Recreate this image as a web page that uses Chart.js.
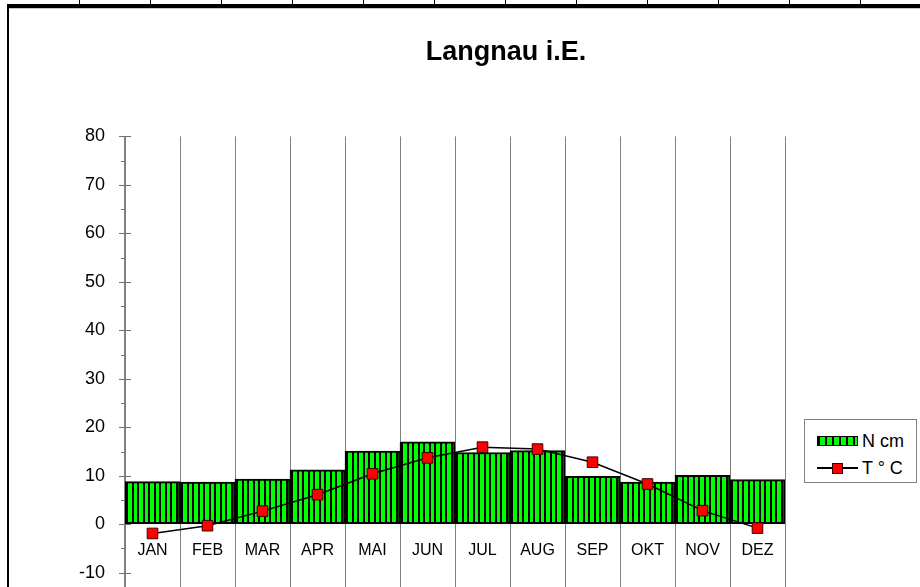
<!DOCTYPE html>
<html>
<head>
<meta charset="utf-8">
<script src="https://cdn.jsdelivr.net/npm/chart.js@4"></script>
<style>
  html, body { margin: 0; padding: 0; background: #fff; overflow: hidden; width: 920px; height: 587px; }
  #wrap { position: relative; width: 920px; height: 587px; overflow: hidden; }
  #c { position: absolute; left: 0; top: 0; }
  .deco { position: absolute; background: #000; }
  #legend {
    position: absolute; left: 804px; top: 419px; width: 111px; height: 62px;
    border: 1px solid #808080; background: #fff;
    font-family: "Liberation Sans", Arial, sans-serif; font-size: 18px; color: #000;
  }
  .item { position: absolute; left: 12px; height: 20px; display: flex; align-items: center; }
  .item span { margin-left: 4px; }
  .sw-bar { width: 39px; height: 8px; border: 1px solid #000;
    background: repeating-linear-gradient(90deg, #000 0 2px, #00ff00 2px 7px); }
  .sw-line { position: relative; width: 41px; height: 10px; }
  .sw-line i { position: absolute; left: 0; right: 0; top: 4px; height: 1.5px; background: #000; }
  .sw-line b { position: absolute; left: 15px; top: 0; width: 9px; height: 9px; background: #f00; border: 1px solid #400000; }
</style>
</head>
<body>
<div id="wrap">
  <canvas id="c" width="920" height="652"></canvas>
  <div id="legend"></div>
</div>
<script>
const months = ["JAN", "FEB", "MAR", "APR", "MAI", "JUN", "JUL", "AUG", "SEP", "OKT", "NOV", "DEZ"];
const niederschlag = [8.8, 8.7, 9.3, 11.2, 15.1, 17.0, 14.8, 15.2, 9.9, 8.7, 10.1, 9.2];
const temperatur = [-1.9, -0.3, 2.7, 6.1, 10.4, 13.7, 15.9, 15.5, 12.8, 8.3, 2.8, -0.8];
const seriesNames = ["N cm", "T ° C"];
const titel = "Langnau i.E.";

// spreadsheet frame round the chart
const wrap = document.getElementById("wrap");
function deco(l, t, w, h, col) {
  const d = document.createElement("div");
  d.className = "deco";
  d.style.cssText = "left:" + l + "px;top:" + t + "px;width:" + w + "px;height:" + h + "px;" + (col ? "background:" + col : "");
  wrap.appendChild(d);
}
deco(7, 4, 913, 4);
deco(7, 8, 913, 1, "#c8c8c8");
deco(7, 4, 2, 583);
for (let x = 79; x < 920; x += 71) deco(x, 0, 1, 4);

// striped fill for the bars
const pc = document.createElement("canvas");
pc.width = 11; pc.height = 4;
const pctx = pc.getContext("2d");
pctx.fillStyle = "#00ff00";
pctx.fillRect(0, 0, 11, 4);
pctx.fillStyle = "#000";
pctx.fillRect(0, 0, 2, 4);
pctx.fillRect(5, 0, 2, 4);
const stripes = document.getElementById("c").getContext("2d").createPattern(pc, "repeat");

// y ticks crossing the axis, with minor ticks every 5
const yTicks = {
  id: "yTicks",
  afterLayout(chart) {
    // title is centred over the whole chart box incl. legend, not just the plot
    if (chart.titleBlock) { chart.titleBlock.left = 92; chart.titleBlock.right = 920; }
  },
  afterDraw(chart) {
    const ctx = chart.ctx, y = chart.scales.y, x0 = chart.chartArea.left;
    ctx.save();
    ctx.strokeStyle = "#707070";
    ctx.lineWidth = 1;
    for (let v = y.min; v <= y.max; v += 5) {
      const py = Math.round(y.getPixelForValue(v)) + 0.5;
      ctx.beginPath();
      if (v % 10 === 0) { ctx.moveTo(x0 - 6, py); ctx.lineTo(x0 + 6, py); }
      else { ctx.moveTo(x0 - 4, py); ctx.lineTo(x0, py); }
      ctx.stroke();
    }
    ctx.restore();
  }
};

Chart.defaults.font.family = '"Liberation Sans", Arial, sans-serif';
Chart.defaults.color = "#000";

const chart = new Chart(document.getElementById("c"), {
  type: "bar",
  plugins: [yTicks],
  data: {
    labels: months,
    datasets: [
      {
        type: "line",
        label: seriesNames[1],
        data: temperatur,
        borderColor: "#000",
        borderWidth: 1.5,
        pointStyle: "rect",
        pointRadius: 7.5,
        pointBackgroundColor: "#ff0000",
        pointBorderColor: "#400000",
        pointBorderWidth: 1,
        tension: 0,
        order: 0,
      },
      {
        label: seriesNames[0],
        data: niederschlag,
        backgroundColor: stripes,
        borderColor: "#000",
        borderWidth: 2,
        borderSkipped: false,
        barPercentage: 1,
        categoryPercentage: 1,
        order: 1,
      },
    ],
  },
  options: {
    responsive: false,
    animation: false,
    layout: { padding: { left: 0, right: 135, top: 0, bottom: 11 } },
    plugins: {
      legend: { display: false },
      tooltip: { enabled: false },
      title: {
        display: true,
        text: titel,
        font: { size: 27, weight: "bold" },
        padding: { top: 36, bottom: 68 },
      },
    },
    scales: {
      x: {
        position: { y: 0 },
        grid: { color: "#808080", lineWidth: 1, drawTicks: false, offset: true },
        border: { display: false },
        ticks: { font: { size: 16 }, padding: 17 },
      },
      y: {
        min: -20,
        max: 80,
        ticks: { stepSize: 10, font: { size: 18 }, padding: 20 },
        grid: { drawOnChartArea: false, drawTicks: false },
        border: { color: "#808080", width: 1.5 },
        afterFit(scale) { scale.width = 125; },
      },
    },
  },
});

// legend built from the chart's datasets
const legend = document.getElementById("legend");
const bars = chart.data.datasets[1], line = chart.data.datasets[0];
legend.innerHTML =
  '<div class="item" style="top:11px"><div class="sw-bar"></div><span>' + bars.label + '</span></div>' +
  '<div class="item" style="top:38px"><div class="sw-line"><i></i><b></b></div><span>' + line.label + '</span></div>';
</script>
</body>
</html>
